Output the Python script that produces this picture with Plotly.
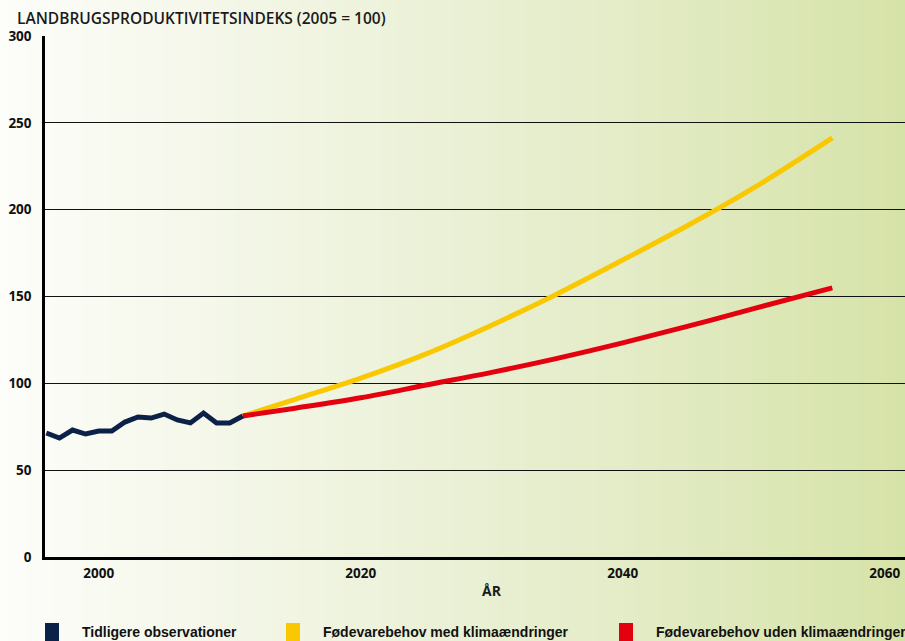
import plotly.graph_objects as go

# Tidligere observationer (1996-2011)
obs_years = list(range(1996, 2012))
obs_vals = [71.4, 68.5, 73.1, 70.8, 72.5, 72.5, 77.7, 80.6, 80.0, 82.3, 78.9, 77.2, 82.9, 77.2, 77.2, 81.2]

# Fremskrivninger
proj_years = [2011, 2015, 2020, 2025, 2030, 2035, 2040, 2045, 2050, 2056]
med_klima = [81.2, 90.8, 103, 117, 133.5, 151.5, 171, 191, 212.5, 241.3]
uden_klima = [81.2, 85.7, 91.7, 99.0, 106.3, 114.4, 123.3, 132.9, 143.0, 155.0]

x_ticks = [2000, 2020, 2040, 2060]
y_ticks = [0, 50, 100, 150, 200, 250, 300]

legend_items = [
    ("Tidligere observationer", "#0b2148"),
    ("Fødevarebehov med klimaændringer", "#f9c800"),
    ("Fødevarebehov uden klimaændringer", "#e3000f"),
]

W, H = 905, 641
L, R, T, B = 45, 0, 36, 84
PW, PH = W - L - R, H - T - B


def px(x):
    return (x - L) / PW


def py(y):
    return (H - B - y) / PH


fig = go.Figure()
fig.add_trace(go.Scatter(x=proj_years, y=med_klima, mode="lines", line=dict(color="#f9c800", width=5, shape="spline"),
                         showlegend=False, hoverinfo="skip"))
fig.add_trace(go.Scatter(x=proj_years, y=uden_klima, mode="lines", line=dict(color="#e3000f", width=5, shape="spline"),
                         showlegend=False, hoverinfo="skip"))
fig.add_trace(go.Scatter(x=obs_years, y=obs_vals, mode="lines", line=dict(color="#0b2148", width=5),
                         showlegend=False, hoverinfo="skip"))

# baggrundsgradient (hvid -> lysegrøn)
stops = [(0.0, (253, 253, 250)), (0.4, (238, 243, 221)), (0.68, (228, 236, 200)), (1.0, (214, 227, 168))]


def grad(t):
    for (t0, c0), (t1, c1) in zip(stops[:-1], stops[1:]):
        if t <= t1:
            f = (t - t0) / (t1 - t0)
            return "rgb(%d,%d,%d)" % tuple(round(a + (b - a) * f) for a, b in zip(c0, c1))
    return "rgb(%d,%d,%d)" % stops[-1][1]


N = 100
for i in range(N):
    fig.add_shape(type="rect", xref="paper", yref="paper",
                  x0=px(W * i / N), x1=px(W * (i + 1) / N + 1), y0=py(H), y1=py(0),
                  fillcolor=grad((i + 0.5) / N), line_width=0, layer="below")

# forklaring
lx = [45, 286, 619]
for (label, color), x in zip(legend_items, lx):
    fig.add_shape(type="rect", xref="paper", yref="paper", x0=px(x), x1=px(x + 14),
                  y0=py(641), y1=py(623), fillcolor=color, line_width=0)
    fig.add_annotation(xref="paper", yref="paper", x=px(x + 35), y=py(632), text=label,
                       showarrow=False, xanchor="left", yanchor="middle",
                       font=dict(family="Liberation Sans, Arial, sans-serif", size=14,
                                 color="#111", weight="bold"))

fig.add_annotation(xref="paper", yref="paper", x=px(15), y=py(18), text="LANDBRUGSPRODUKTIVITETSINDEKS (2005 = 100)",
                   showarrow=False, xanchor="left", yanchor="middle",
                   font=dict(family="Open Sans, sans-serif", size=15.5, color="#1a1a1a", weight=600))
fig.add_annotation(xref="x", yref="paper", x=2030, y=py(590), text="ÅR", showarrow=False,
                   xanchor="center", yanchor="middle",
                   font=dict(family="Open Sans, sans-serif", size=14, color="#1a1a1a", weight="bold"))

fig.update_xaxes(range=[1995.9, 2061.55], tickvals=x_ticks, showgrid=False, zeroline=False,
                 showline=True, linecolor="#000", linewidth=2.5, ticks="", ticklabelstandoff=2,
                 tickfont=dict(family="Open Sans, sans-serif", size=13.5, color="#111", weight="bold"))
fig.update_yaxes(range=[0, 300], tickvals=y_ticks, showgrid=True, gridcolor="#111", gridwidth=1.3,
                 zeroline=False, showline=True, linecolor="#000", linewidth=2.5, ticks="", ticklabelstandoff=8,
                 tickfont=dict(family="Open Sans, sans-serif", size=13.5, color="#111", weight="bold"))

fig.update_layout(width=W, height=H, margin=dict(l=L, r=R, t=T, b=B),
                  paper_bgcolor="white", plot_bgcolor="rgba(0,0,0,0)", showlegend=False)

fig.write_html("out.html", config={"displayModeBar": False},
               post_script="document.body.style.margin='0';document.body.style.overflow='hidden';")
